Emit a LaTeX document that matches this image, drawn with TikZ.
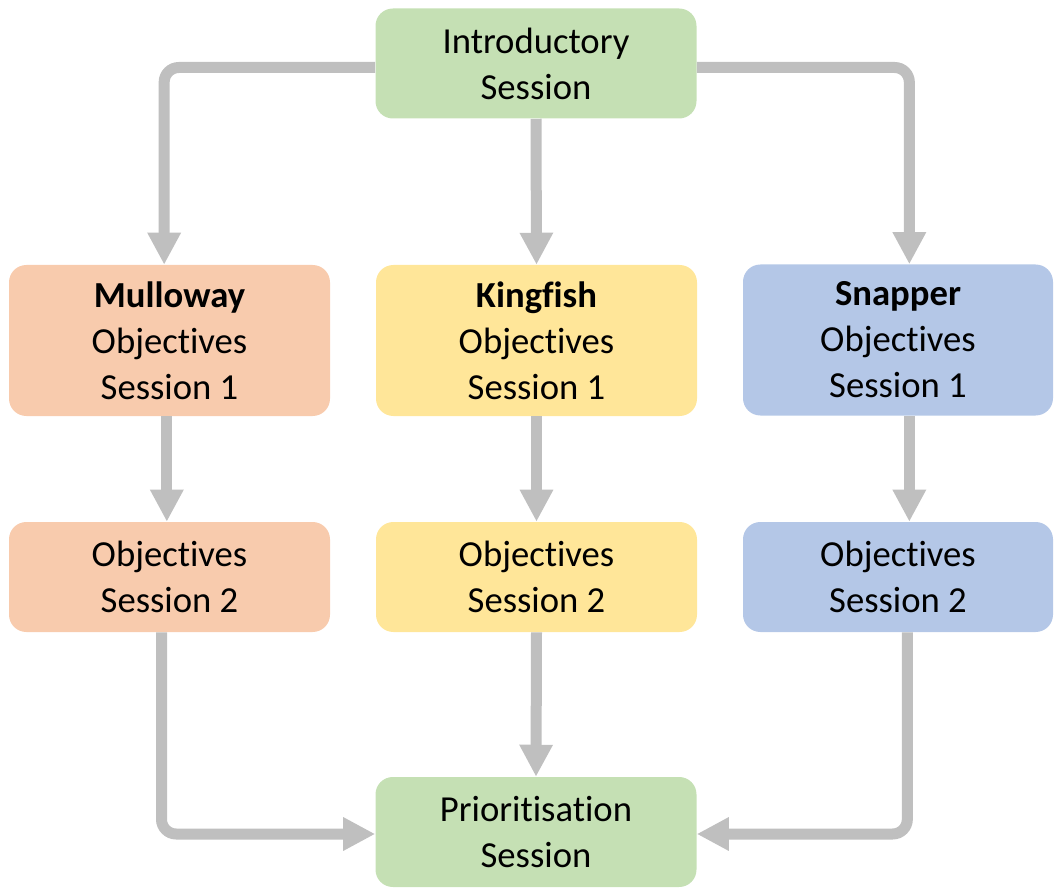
\documentclass[tikz,border=0pt]{standalone}
\usepackage{fontspec}
\setmainfont{Carlito}[Ligatures=NoCommon]
\usetikzlibrary{arrows.meta}
\definecolor{boxgreen}{HTML}{C5E0B4}
\definecolor{boxorange}{HTML}{F8CBAD}
\definecolor{boxyellow}{HTML}{FFE699}
\definecolor{boxblue}{HTML}{B4C7E7}
\definecolor{flowgray}{HTML}{BFBFBF}
\begin{document}
\begin{tikzpicture}[x=0.75pt,y=-0.75pt,
  box/.style={rounded corners=13pt, inner sep=0pt, align=center,
    minimum width=240.75pt, text=black,
    font=\fontsize{27.5pt}{34.5pt}\selectfont},
  tall/.style={minimum height=113.25pt},
  short/.style={minimum height=82.5pt},
  arr/.style={draw=flowgray, line width=8.25pt, rounded corners=11pt,
    -{Triangle[length=24pt,width=23.5pt]}}]
\useasboundingbox (0,0) rectangle (1054,888);

% sessions
\node[box, short, fill=boxgreen] (intro) at (536,63.5) {Introductory\\Session};
\node[box, tall, fill=boxorange] (mul1) at (169.5,340.5) {\textbf{Mulloway}\\Objectives\\Session 1};
\node[box, tall, fill=boxyellow] (kf1) at (536.5,340.5) {\textbf{Kingfish}\\Objectives\\Session 1};
\node[box, tall, fill=boxblue, minimum width=232.5pt] (snp1) at (898,340) {\textbf{Snapper}\\Objectives\\Session 1};
\node[box, short, fill=boxorange] (mul2) at (169.5,577) {Objectives\\Session 2};
\node[box, short, fill=boxyellow] (kf2) at (536.5,577) {Objectives\\Session 2};
\node[box, short, fill=boxblue, minimum width=232.5pt] (snp2) at (898,577) {Objectives\\Session 2};
\node[box, short, fill=boxgreen] (prio) at (536,832) {Prioritisation\\Session};

% connectors
\draw[arr] ([yshift=-3pt]intro.west) -| ([xshift=-4pt]mul1.north);
\draw[arr] (intro.south) -- (kf1.north);
\draw[arr] ([yshift=-3pt]intro.east) -| ([xshift=8.5pt]snp1.north);
\draw[arr] ([xshift=-2pt]mul1.south) -- ([xshift=-2pt]mul2.north);
\draw[arr] (kf1.south) -- (kf2.north);
\draw[arr] ([xshift=8.5pt]snp1.south) -- ([xshift=8.5pt]snp2.north);
\draw[arr] ([xshift=-6pt]mul2.south) |- ([yshift=-1.5pt]prio.west);
\draw[arr] (kf2.south) -- (prio.north);
\draw[arr] ([xshift=7pt]snp2.south) |- ([yshift=-1.5pt]prio.east);
\end{tikzpicture}
\end{document}
